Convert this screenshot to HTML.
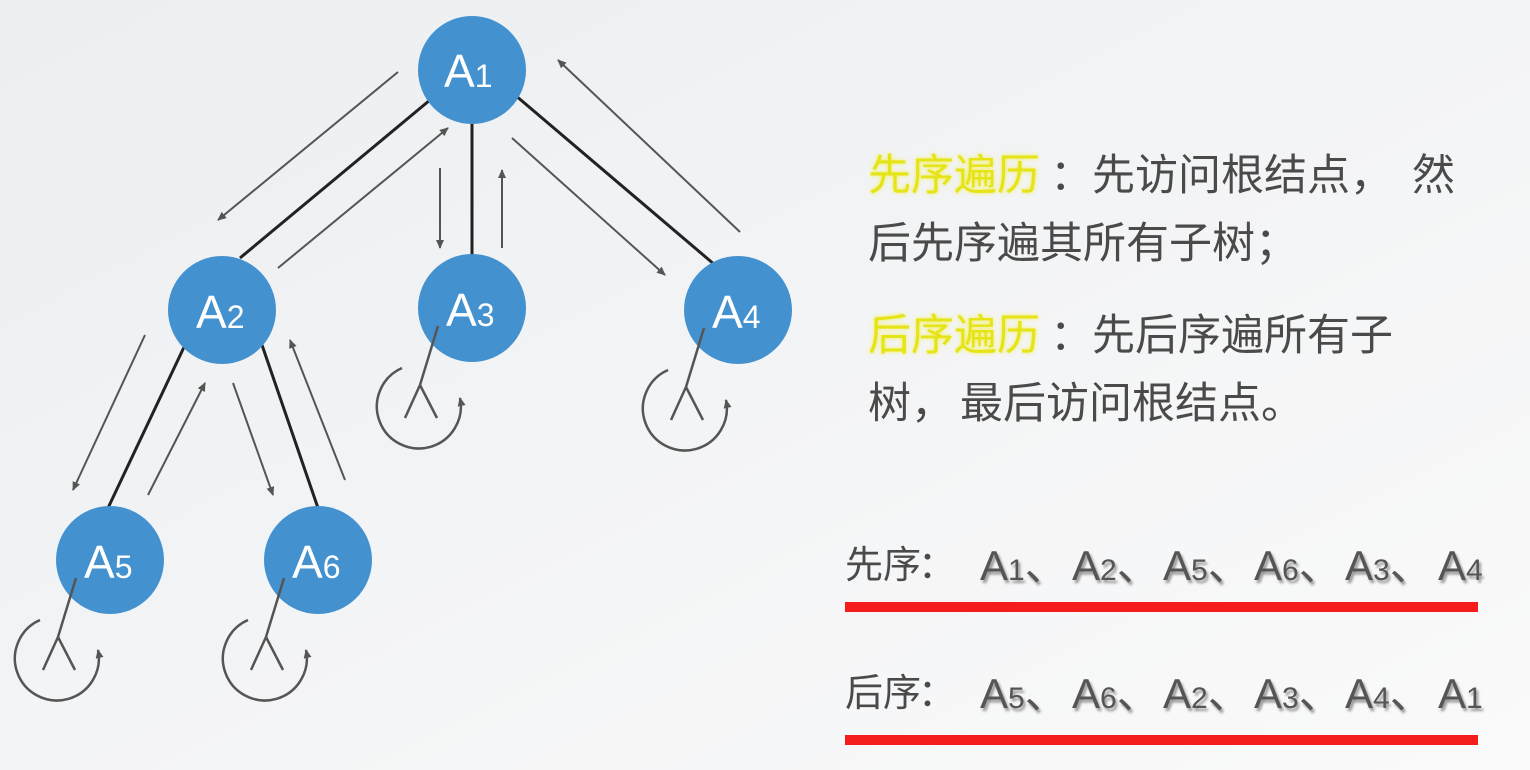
<!DOCTYPE html>
<html><head><meta charset="utf-8"><style>
body{margin:0;background:#f3f4f6;}
svg{display:block}
</style></head><body>
<svg width="1530" height="770" viewBox="0 0 1530 770" xmlns="http://www.w3.org/2000/svg">
<defs>
<linearGradient id="bg" x1="0" y1="0" x2="1" y2="1"><stop offset="0" stop-color="#eceef1"/><stop offset="1" stop-color="#fafafa"/></linearGradient>
<marker id="ar" markerWidth="10" markerHeight="10" refX="8" refY="4" orient="auto" markerUnits="userSpaceOnUse"><path d="M0,0 L9,4 L0,8 z" fill="#555"/></marker>
<g id="leaf" fill="none" stroke="#555" stroke-width="2.5">
<path d="M-34,18 L-52,77 M-52,77 L-67,110 M-52,77 L-35,110"/>
<path d="M-70,60 A42 42 0 1 0 -12,90" marker-end="url(#ar)"/>
</g>
<filter id="glow"><feGaussianBlur stdDeviation="2"/></filter>
<filter id="sh"><feGaussianBlur stdDeviation="1.2"/></filter>
</defs>
<rect width="1530" height="770" fill="url(#bg)"/>
<g stroke="#222" stroke-width="3">
<line x1="430" y1="100" x2="240" y2="258"/>
<line x1="472" y1="120" x2="472" y2="260"/>
<line x1="515" y1="95" x2="715" y2="265"/>
<line x1="185" y1="345" x2="108" y2="508"/>
<line x1="262" y1="345" x2="318" y2="508"/>
</g>
<g stroke="#555" stroke-width="2" marker-end="url(#ar)">
<line x1="398" y1="72" x2="218" y2="220"/>
<line x1="278" y1="268" x2="448" y2="128"/>
<line x1="440" y1="168" x2="440" y2="248"/>
<line x1="502" y1="248" x2="502" y2="170"/>
<line x1="512" y1="138" x2="665" y2="275"/>
<line x1="740" y1="232" x2="558" y2="60"/>
<line x1="145" y1="335" x2="73" y2="490"/>
<line x1="148" y1="495" x2="205" y2="383"/>
<line x1="233" y1="383" x2="273" y2="495"/>
<line x1="345" y1="480" x2="290" y2="340"/>
</g>
<g fill="#4391cf">
<circle cx="472" cy="70" r="54"/>
<circle cx="222" cy="310" r="54"/>
<circle cx="472" cy="308" r="54"/>
<circle cx="738" cy="310" r="54"/>
<circle cx="110" cy="560" r="54"/>
<circle cx="318" cy="560" r="54"/>
</g>
<use href="#leaf" x="472" y="308"/>
<use href="#leaf" x="738" y="310"/>
<use href="#leaf" x="110" y="560"/>
<use href="#leaf" x="318" y="560"/>
<g fill="#fff" font-family="Liberation Sans, sans-serif" font-size="46">
<text x="444" y="87">A<tspan font-size="32">1</tspan></text>
<text x="196" y="328">A<tspan font-size="32">2</tspan></text>
<text x="446" y="326">A<tspan font-size="32">3</tspan></text>
<text x="712" y="328">A<tspan font-size="32">4</tspan></text>
<text x="84" y="578">A<tspan font-size="32">5</tspan></text>
<text x="292" y="578">A<tspan font-size="32">6</tspan></text>
</g>
<g font-size="43" fill="#4a4a4a" font-family="Liberation Sans, Noto Sans CJK SC, sans-serif">
<text x="868" y="190" fill="#f4f040" filter="url(#glow)">先序遍历</text>
<text x="868" y="190" fill="#e4e418">先序遍历</text>
<text x="1050" y="190">：</text>
<text x="1092" y="190">先访问根结点，</text>
<text x="1412" y="190">然</text>
<text x="868" y="258">后先序遍其所有子树；</text>
<text x="868" y="350" fill="#f4f040" filter="url(#glow)">后序遍历</text>
<text x="868" y="350" fill="#e4e418">后序遍历</text>
<text x="1050" y="350">：</text>
<text x="1092" y="350">先后序遍所有子</text>
<text x="868" y="418">树，</text>
<text x="960" y="418">最后访问根结点。</text>
</g>
<g font-size="38" fill="#4a4a4a" font-family="Liberation Sans, Noto Sans CJK SC, sans-serif">
<text x="845" y="578">先序</text>
<text x="918" y="578">：</text>
<text x="845" y="706">后序</text>
<text x="918" y="706">：</text>
</g>
<g font-family="Liberation Sans, Noto Sans CJK SC, sans-serif" font-size="42" fill="#555" transform="translate(2,3)" filter="url(#sh)" opacity="0.6">
<text x="980" y="580">A<tspan font-size="30">1</tspan>、</text>
<text x="1072" y="580">A<tspan font-size="30">2</tspan>、</text>
<text x="1163" y="580">A<tspan font-size="30">5</tspan>、</text>
<text x="1254" y="580">A<tspan font-size="30">6</tspan>、</text>
<text x="1345" y="580">A<tspan font-size="30">3</tspan>、</text>
<text x="1438" y="580">A<tspan font-size="30">4</tspan></text>
<text x="980" y="708">A<tspan font-size="30">5</tspan>、</text>
<text x="1072" y="708">A<tspan font-size="30">6</tspan>、</text>
<text x="1163" y="708">A<tspan font-size="30">2</tspan>、</text>
<text x="1254" y="708">A<tspan font-size="30">3</tspan>、</text>
<text x="1345" y="708">A<tspan font-size="30">4</tspan>、</text>
<text x="1438" y="708">A<tspan font-size="30">1</tspan></text>
</g>
<g font-family="Liberation Sans, Noto Sans CJK SC, sans-serif" font-size="42" fill="#555">
<text x="980" y="580">A<tspan font-size="30">1</tspan>、</text>
<text x="1072" y="580">A<tspan font-size="30">2</tspan>、</text>
<text x="1163" y="580">A<tspan font-size="30">5</tspan>、</text>
<text x="1254" y="580">A<tspan font-size="30">6</tspan>、</text>
<text x="1345" y="580">A<tspan font-size="30">3</tspan>、</text>
<text x="1438" y="580">A<tspan font-size="30">4</tspan></text>
<text x="980" y="708">A<tspan font-size="30">5</tspan>、</text>
<text x="1072" y="708">A<tspan font-size="30">6</tspan>、</text>
<text x="1163" y="708">A<tspan font-size="30">2</tspan>、</text>
<text x="1254" y="708">A<tspan font-size="30">3</tspan>、</text>
<text x="1345" y="708">A<tspan font-size="30">4</tspan>、</text>
<text x="1438" y="708">A<tspan font-size="30">1</tspan></text>
</g>
<rect x="845" y="602" width="633" height="10" fill="#f51c1c"/>
<rect x="845" y="735" width="633" height="10" fill="#f51c1c"/>
</svg>
</body></html>
